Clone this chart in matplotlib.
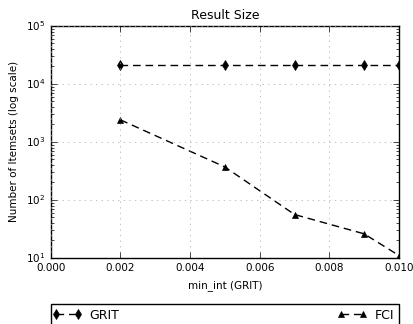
import matplotlib
matplotlib.use('Agg')
import matplotlib.pyplot as plt
from matplotlib.legend_handler import HandlerLine2D

min_int = [0.002, 0.005, 0.007, 0.009, 0.010]
grit = [21000, 21000, 21000, 21000, 21000]
fci = [2400, 370, 56, 26, 11]

plt.style.use('classic')
plt.rcParams['font.size'] = 7.5

fig = plt.figure(figsize=(4.13, 3.24), dpi=100)
ax = fig.add_axes([0.123, 0.204, 0.843, 0.716])
l1, = ax.plot(min_int, grit, 'k--', dashes=(5.5, 3.5), marker='d', markersize=5, label='GRIT')
l2, = ax.plot(min_int, fci, 'k--', dashes=(5.5, 3.5), marker='^', markersize=5, label='FCI')
ax.set_yscale('log')
ax.set_xlim(0, 0.010)
ax.set_ylim(10, 1e5)
ax.grid(True, color='#aaaaaa', linestyle=':')
ax.set_title('Result Size', fontsize=9)
ax.set_xlabel('min_int (GRIT)', fontsize=7.5)
ax.set_ylabel('Number of Itemsets (log scale)', fontsize=7.5)
ax.tick_params(labelsize=7.5)
hm = {l1: HandlerLine2D(marker_pad=0), l2: HandlerLine2D(marker_pad=0)}
ax.legend(loc='upper left', bbox_to_anchor=(0., -0.198, 1., 0.), mode='expand',
          ncol=2, borderaxespad=0, numpoints=2, fontsize=9, fancybox=False,
          borderpad=0.4, handlelength=1.75, handletextpad=0.9, handler_map=hm)

fig.savefig('out.png', dpi=100)
